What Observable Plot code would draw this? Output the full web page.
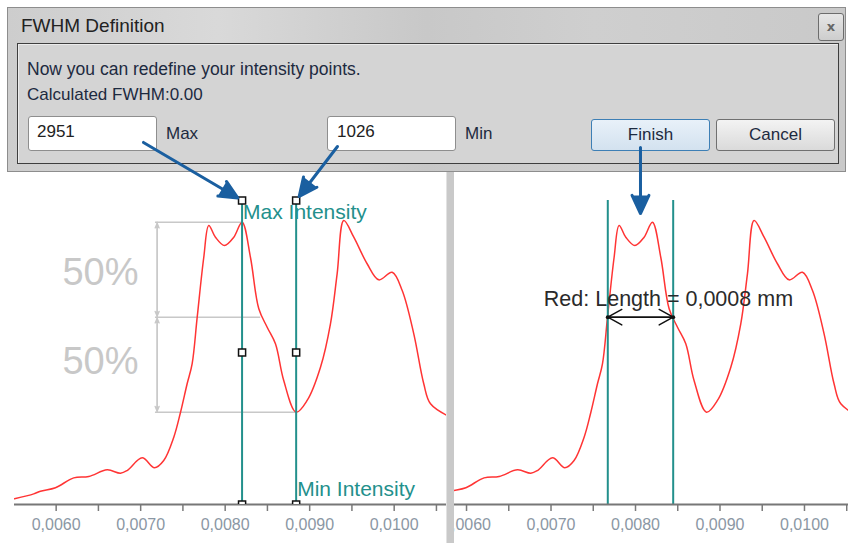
<!DOCTYPE html>
<html><head><meta charset="utf-8">
<script src="https://cdn.jsdelivr.net/npm/d3@7"></script>
<script src="https://cdn.jsdelivr.net/npm/@observablehq/plot@0.6"></script>
<style>
html,body{margin:0;padding:0;background:#fff;}
#root{position:relative;width:848px;height:543px;overflow:hidden;background:#fff;font-family:"Liberation Sans",Arial,sans-serif;}
.a{position:absolute;white-space:nowrap;}
#left,#right{position:absolute;top:0;z-index:2;pointer-events:none;}
#left{left:0;} #right{left:452px;}
#divider{left:447px;top:172px;width:7px;height:371px;background:#c9c9c9;z-index:3;box-shadow:-1px 0 0 #e2e2e2;}
#dlg{left:7px;top:7px;width:839px;height:165px;box-sizing:border-box;border:1px solid #8d8d8d;z-index:1;
  background:linear-gradient(90deg,#cdcdcd 0%,#d9d9d9 25%,#c8c8c8 50%,#cfcfcf 70%,#c9c9c9 100%);}
#panel{left:17px;top:43px;width:822px;height:121px;box-sizing:border-box;border:1px solid #3e3e3e;background:#d4d4d4;z-index:1;box-shadow:inset 1px 1px 0 #ececec;}
.t{font-size:17px;line-height:20px;color:#1d2a40;z-index:1;}
.box{z-index:1;box-sizing:border-box;background:#fff;border:1px solid #8e8e8e;border-radius:3px;}
.btn{z-index:1;box-sizing:border-box;border-radius:3px;font-size:17px;line-height:30px;text-align:center;color:#1d2a40;}
g[aria-label^="x-axis"] text{fill:#8b97a4;}
g[aria-label^="x-axis"] line, g[aria-label^="x-axis"] path{stroke-width:1.5;}
</style></head>
<body>
<div id="root">
  <div id="dlg" class="a"></div>
  <div id="panel" class="a"></div>
  <div class="a" style="left:21px;top:15px;font-size:19px;line-height:22px;color:#222;z-index:1">FWHM Definition</div>
  <div class="a" style="left:818px;top:13px;width:26px;height:28px;box-sizing:border-box;border:1px solid #6c6c6c;border-radius:3px;background:linear-gradient(#e6e6e6,#cdcdcd);z-index:1;text-align:center;font:bold 13px/25px 'DejaVu Sans',sans-serif;color:#666">x</div>
  <div id="msg1" class="a t" style="left:27px;top:59px;font-size:17.5px"></div>
  <div id="msg2" class="a t" style="left:27px;top:85px"></div>
  <div class="a box" style="left:28px;top:116px;width:129px;height:35px"></div>
  <div id="v1" class="a t" style="left:37px;top:122px;color:#222"></div>
  <div class="a t" style="left:166px;top:124px">Max</div>
  <div class="a box" style="left:327px;top:116px;width:129px;height:35px"></div>
  <div id="v2" class="a t" style="left:337px;top:122px;color:#222"></div>
  <div class="a t" style="left:465px;top:124px">Min</div>
  <div class="a btn" style="left:591px;top:119px;width:119px;height:32px;border:1px solid #3d7fb5;background:linear-gradient(#e8f1f9,#d3e2ef)">Finish</div>
  <div class="a btn" style="left:716px;top:119px;width:119px;height:32px;border:1px solid #707070;background:linear-gradient(#f3f3f3,#dadada)">Cancel</div>
  <div id="left"></div>
  <div id="right"></div>
  <div id="divider" class="a"></div>
</div>
<script>
// ---- data ----
const position = [0.005507,0.005735,0.005814,0.005992,0.006208,0.006386,0.006604,0.006761,0.006840,0.007018,
  0.007163,0.007273,0.007392,0.007471,0.007550,0.007609,0.007669,0.007747,0.007806,0.007885,
  0.007992,0.008102,0.008200,0.008299,0.008398,0.008497,0.008595,0.008693,0.008840,0.008970,
  0.009128,0.009246,0.009325,0.009404,0.009522,0.009680,0.009818,0.009976,0.010095,0.010232,
  0.010350,0.010430,0.010666];
const intensity = [149,199,226,261,361,375,442,408,435,564,
  463,537,773,1023,1314,1516,1989,2596,2918,2799,
  2715,2799,2951,2596,2074,1887,1719,1347,1026,1145,
  1482,1922,2428,2968,2799,2530,2367,2444,2259,1820,
  1314,1111,975];
const markerNames = ["Max Intensity", "Min Intensity"];
const markerX = [0.0082, 0.00884];
const markerI = [2951, 1026];
const fwhmX = [0.007672, 0.008446];
const fwhmLabel = "Red: Length = 0,0008 mm";
const fwhmLabelX = 0.006915;
const pctLabels = ["50%", "50%"];
const pctLabelI = [2434, 1533];
const pctLabelX = 0.006524;
const guideX = [0.007175, 0.007195];    // guide lines start, guide arrows
const halfGuideEnd = 0.00842;
const tickValues = [0.006,0.0065,0.007,0.0075,0.008,0.0085,0.009,0.0095,0.010,0.0105];
const tickLabels = ["0,0060","","0,0070","","0,0080","","0,0090","","0,0100",""];
const dialogText = ["Now you can redefine your intensity points.", "Calculated FWHM:0.00"];
const dialogValues = ["2951", "1026"];
const calloutStartX = [0.007033, 0.009329];
const calloutStartI = [3759, 3718];
const finishArrowX = 0.008059;
const finishArrowI = [3708, 3039];
const baseI = 91, topI = 5197, handleTopI = 3171;
const leftDomain = [0.005507, 0.010631];
const rightDomain = [0.005834, 0.010521];

// ---- dialog text ----
document.getElementById("msg1").textContent = dialogText[0];
document.getElementById("msg2").textContent = dialogText[1];
document.getElementById("v1").textContent = dialogValues[0];
document.getElementById("v2").textContent = dialogValues[1];

// ---- derived ----
const pts = position.map((x, i) => ({x, y: intensity[i]}));
const halfI = (markerI[0] + markerI[1]) / 2;
const fmtTick = d => { const i = tickValues.findIndex(v => Math.abs(v - d) < 1e-9); return i < 0 ? "" : tickLabels[i]; };
const TEAL = "#23908c", RED = "#ff3434", BLUE = "#1a5fa0", GRAY = "#c8c8c8";

function chart(width, ml, mr, domain, marks) {
  return Plot.plot({
    width, height: 543, marginTop: 0, marginBottom: 39, marginLeft: ml, marginRight: mr,
    x: {domain, ticks: tickValues, tickFormat: fmtTick, tickSize: 7, tickPadding: 7, label: null},
    y: {domain: [baseI, topI], axis: null},
    style: {background: "transparent", overflow: "hidden", color: "#7a7a7a",
            fontFamily: "Liberation Sans, Arial, sans-serif", fontSize: "16px"},
    marks
  });
}

const handles = markerX.flatMap(x => [handleTopI, (handleTopI + baseI) / 2, baseI].map(y => ({x, y})));
const guides = [
  {y: markerI[0], x1: guideX[0], x2: markerX[0]},
  {y: halfI, x1: guideX[0], x2: halfGuideEnd},
  {y: markerI[1], x1: guideX[0], x2: markerX[1]}
];
const gArrows = [
  {x: guideX[1], y1: halfI, y2: markerI[0]}, {x: guideX[1], y1: markerI[0], y2: halfI},
  {x: guideX[1], y1: halfI, y2: markerI[1]}, {x: guideX[1], y1: markerI[1], y2: halfI}
];
const callouts = calloutStartX.map((x, i) => ({x1: x, y1: calloutStartI[i], x2: markerX[i], y2: handleTopI}));

const left = chart(448, 14, 1, leftDomain, [
  Plot.text(pctLabels.map((t, i) => ({t, y: pctLabelI[i]})), {x: () => pctLabelX, y: "y", text: "t", fontSize: 38, fill: GRAY, textAnchor: "middle"}),
  Plot.ruleY(guides, {y: "y", x1: "x1", x2: "x2", stroke: GRAY, strokeWidth: 1.5}),
  Plot.arrow(gArrows, {x: "x", y1: "y1", y2: "y2", stroke: GRAY, fill: GRAY, strokeWidth: 1.3, headLength: 6, headAngle: 45, insetEnd: 1}),
  Plot.line(pts, {x: "x", y: "y", stroke: RED, strokeWidth: 1.5, curve: "catmull-rom", clip: true}),
  Plot.ruleX(markerX, {x: d => d, y1: baseI, y2: handleTopI, stroke: TEAL, strokeWidth: 2}),
  Plot.ruleY([baseI], {stroke: "#777", strokeWidth: 1.8}),
  Plot.dot(handles, {x: "x", y: "y", symbol: "square", r: 4, fill: "white", stroke: "#111", strokeWidth: 1.5, clip: true}),
  Plot.text([0], {x: () => markerX[0], y: () => handleTopI, text: () => markerNames[0], fill: TEAL, fontSize: 21, textAnchor: "start", dx: 1, dy: 12}),
  Plot.text([0], {x: () => markerX[1], y: () => baseI, text: () => markerNames[1], fill: TEAL, fontSize: 21, textAnchor: "start", dx: 1, dy: -15}),
  Plot.arrow(callouts, {x1: "x1", y1: "y1", x2: "x2", y2: "y2", stroke: BLUE, fill: BLUE, strokeWidth: 3, headLength: 10, headAngle: 50, insetEnd: 5})
]);

const right = chart(396, 0, 0, rightDomain, [
  Plot.line(pts, {x: "x", y: "y", stroke: RED, strokeWidth: 1.5, curve: "catmull-rom", clip: true}),
  Plot.ruleX(fwhmX, {x: d => d, y1: baseI, y2: handleTopI, stroke: TEAL, strokeWidth: 2}),
  Plot.ruleY([baseI], {stroke: "#777", strokeWidth: 1.8}),
  Plot.arrow([{a: fwhmX[0], b: fwhmX[1]}, {a: fwhmX[1], b: fwhmX[0]}], {x1: "a", x2: "b", y1: () => halfI, y2: () => halfI, stroke: "#111", strokeWidth: 1.5, headLength: 16, headAngle: 58}),
  Plot.dot(fwhmX, {x: d => d, y: () => halfI, r: 2, fill: "#111"}),
  Plot.text([0], {x: () => fwhmLabelX, y: () => halfI, text: () => fwhmLabel, fill: "#2a2a2a", fontSize: 21.5, textAnchor: "start", dy: -18}),
  Plot.arrow([0], {x1: () => finishArrowX, x2: () => finishArrowX, y1: () => finishArrowI[0], y2: () => finishArrowI[1], stroke: BLUE, fill: BLUE, strokeWidth: 3, headLength: 10, headAngle: 50})
]);

document.getElementById("left").append(left);
document.getElementById("right").append(right);
</script>
</body></html>
